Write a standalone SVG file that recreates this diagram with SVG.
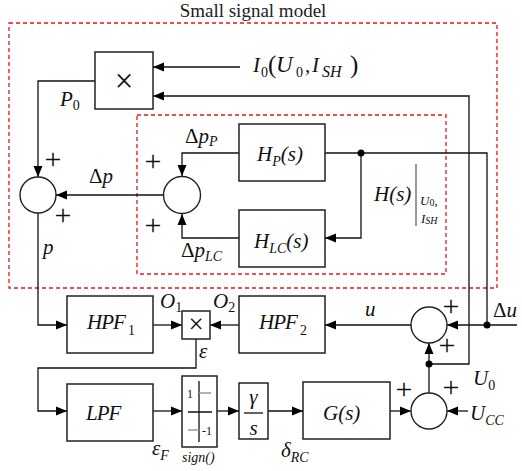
<svg xmlns="http://www.w3.org/2000/svg" width="522" height="471" viewBox="0 0 522 471">
<defs>
<marker id="ah" markerUnits="userSpaceOnUse" markerWidth="12" markerHeight="10" refX="11" refY="5" orient="auto"><path d="M0,0.5 L11,5 L0,9.5 z" fill="#000"/></marker>
</defs>
<style>
.blk{fill:#fff;stroke:#222;stroke-width:1.5}
.sum{fill:#fff;stroke:#222;stroke-width:1.4}
.ln{fill:none;stroke:#111;stroke-width:1.3}
.ar{fill:none;stroke:#111;stroke-width:1.3;marker-end:url(#ah)}
.dash{fill:none;stroke:#e8141b;stroke-width:1.3;stroke-dasharray:4 3}
.gray{fill:none;stroke:#999;stroke-width:1.3}
.t{font-family:"Liberation Serif","Times New Roman",serif;font-style:italic;font-size:21px;fill:#111}
.s{font-size:14px}
.up{font-style:normal}
.pl{font-family:"Liberation Serif","Times New Roman",serif;font-size:30px;fill:#111;text-anchor:middle}
.x{font-family:"Liberation Serif","Times New Roman",serif;font-size:33px;fill:#111;text-anchor:middle}
.tt{font-family:"Liberation Serif","Times New Roman",serif;font-size:19px;fill:#222;text-anchor:middle}
.sm{font-family:"Liberation Serif","Times New Roman",serif;font-size:12px;fill:#111}
.dot{fill:#000}
</style>

<g id="boundaries">
<rect class="dash" x="9" y="23" width="488" height="265"/>
<rect class="dash" x="137" y="115" width="309" height="159"/>
<text class="tt" x="253" y="17">Small signal model</text>
</g>

<g id="connectors">
<path class="ar" d="M240,67 H153"/>
<path class="ar" d="M429,364 H469 V96 H153"/>
<path class="ar" d="M95,81 H38 V177"/>
<path class="ar" d="M163,195 H56"/>
<path class="ar" d="M239,153 H182 V176"/>
<path class="ar" d="M239,238 H182 V214"/>
<path class="ln" d="M325,153 H487 V325"/>
<path class="ar" d="M361,153 V238 H325"/>
<path class="ar" d="M38,213 V325 H67"/>
<path class="ar" d="M153,325 H182"/>
<path class="ar" d="M239,325 H210"/>
<path class="ar" d="M196,339 V368 H38 V411 H67"/>
<path class="ar" d="M153,411 H182"/>
<path class="ar" d="M217,411 H239"/>
<path class="ar" d="M268,411 H303"/>
<path class="ar" d="M390,411 H411"/>
<path class="ar" d="M468,411 H447"/>
<path class="ar" d="M429,393 V343"/>
<path class="ar" d="M517,325 H447"/>
<path class="ar" d="M411,325 H325"/>
<circle class="dot" cx="361" cy="153" r="3.5"/>
<circle class="dot" cx="487" cy="325" r="3.5"/>
<circle class="dot" cx="429" cy="364" r="3.5"/>
</g>

<g id="mult1">
<rect class="blk" x="95" y="52" width="58" height="57"/>
<text class="x" x="124" y="92">×</text>
</g>

<g id="sumL">
<circle class="sum" cx="38" cy="195" r="18"/>
<text class="pl" x="53" y="169">+</text>
<text class="pl" x="63" y="225">+</text>
</g>

<g id="sumI">
<circle class="sum" cx="182" cy="195" r="18.5"/>
<text class="pl" x="153" y="171">+</text>
<text class="pl" x="153" y="235">+</text>
</g>

<g id="HP">
<rect class="blk" x="239" y="124" width="86" height="57"/>
<text class="t" x="257" y="161">H<tspan class="s" dy="5">P</tspan><tspan dy="-5">(s)</tspan></text>
</g>

<g id="HLC">
<rect class="blk" x="239" y="210" width="86" height="57"/>
<text class="t" x="254" y="248">H<tspan class="s" dy="5">LC</tspan><tspan dy="-5">(s)</tspan></text>
</g>

<g id="HPF1">
<rect class="blk" x="67" y="296" width="86" height="57"/>
<text class="t" x="87" y="329" letter-spacing="-1">HPF</text>
<text class="t s up" x="128" y="335">1</text>
</g>

<g id="mult2">
<rect class="blk" x="182" y="311" width="28" height="28"/>
<text class="x" x="196" y="333" style="font-size:27px">×</text>
</g>

<g id="HPF2">
<rect class="blk" x="239" y="296" width="86" height="57"/>
<text class="t" x="259" y="329" letter-spacing="-1">HPF</text>
<text class="t s up" x="300" y="335">2</text>
</g>

<g id="LPF">
<rect class="blk" x="67" y="384" width="86" height="57"/>
<text class="t" x="86" y="420" letter-spacing="-1">LPF</text>
</g>

<g id="sign">
<rect class="blk" x="182" y="376" width="35" height="71"/>
<path class="ln" d="M199,381 V442 M188,412 H212"/>
<path class="gray" d="M199,393 H211 M188,430 H199"/>
<text class="sm" x="187" y="398">1</text>
<text class="sm" x="202" y="435">-1</text>
</g>

<g id="integ">
<rect class="blk" x="239" y="383" width="29" height="56"/>
<line class="ln" x1="244" y1="413" x2="263" y2="413"/>
<text class="t" x="253.5" y="404" text-anchor="middle">γ</text>
<text class="t" x="253.5" y="435" text-anchor="middle">s</text>
</g>

<g id="G">
<rect class="blk" x="303" y="382" width="87" height="57"/>
<text class="t" x="323" y="420">G(s)</text>
</g>

<g id="sumU">
<circle class="sum" cx="429" cy="325" r="18"/>
<text class="pl" x="451" y="316">+</text>
<text class="pl" x="447" y="355">+</text>
</g>

<g id="sumD">
<circle class="sum" cx="429" cy="411" r="18"/>
<text class="pl" x="404" y="399">+</text>
<text class="pl" x="451" y="397">+</text>
</g>

<g id="labels">
<text class="t"><tspan x="253" y="72">I</tspan><tspan class="s up" x="261" y="77">0</tspan><tspan class="up" x="268" y="73" style="font-size:25px">(</tspan><tspan x="276" y="72" style="font-size:23px">U</tspan><tspan class="s up" x="296" y="77">0</tspan><tspan class="up" x="305" y="72">,</tspan><tspan x="312" y="72">I</tspan><tspan x="322" y="77" style="font-size:16px">SH</tspan><tspan class="up" x="350" y="73" style="font-size:25px">)</tspan></text>
<text class="t" x="60" y="106">P<tspan class="s up" dy="4">0</tspan></text>
<text class="t" x="89" y="183"><tspan class="up">Δ</tspan>p</text>
<text class="t" x="185" y="143"><tspan class="up">Δ</tspan>p<tspan class="s" dy="3">P</tspan></text>
<text class="t" x="181" y="257"><tspan class="up">Δ</tspan>p<tspan class="s" dy="4">LC</tspan></text>
<text class="t" x="374" y="201">H(s)</text>
<line x1="416" y1="164" x2="416" y2="226" stroke="#777" stroke-width="1.5"/>
<text class="t" x="420" y="205" style="font-size:13px">U<tspan class="up" dy="1" style="font-size:10px">0</tspan><tspan class="up" dy="-1">,</tspan></text>
<text class="t" x="421" y="223" style="font-size:13px">I<tspan dy="1" style="font-size:10px">SH</tspan></text>
<text class="t" x="43" y="254">p</text>
<text class="t" x="160" y="308">O<tspan class="s up" dy="4">1</tspan></text>
<text class="t" x="213" y="308">O<tspan class="s up" dy="4">2</tspan></text>
<text class="t" x="199" y="358">ε</text>
<text class="t" x="152" y="455">ε<tspan class="s" dy="5">F</tspan></text>
<text class="t" x="182" y="462" style="font-size:14px">sign()</text>
<text class="t" x="281" y="457">δ<tspan class="s" dy="5">RC</tspan></text>
<text class="t" x="473" y="385">U<tspan class="s up" dy="5">0</tspan></text>
<text class="t" x="470" y="420">U<tspan class="s" dy="5">CC</tspan></text>
<text class="t" x="493" y="317"><tspan class="up">Δ</tspan>u</text>
<text class="t" x="365" y="316">u</text>
</g>
</svg>
